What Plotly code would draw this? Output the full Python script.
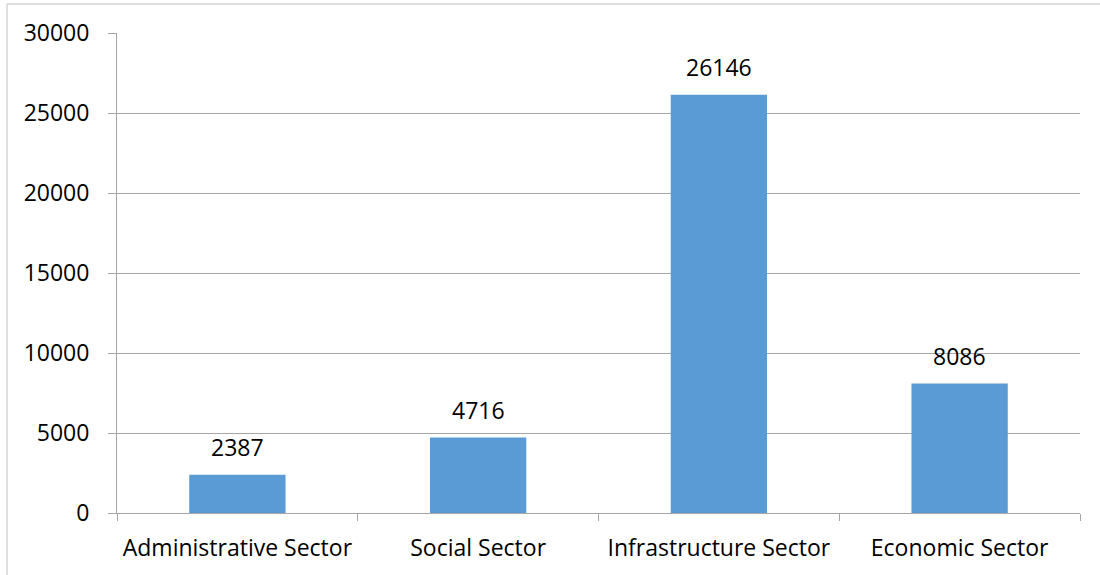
import plotly.graph_objects as go

categories = ["Administrative Sector", "Social Sector", "Infrastructure Sector", "Economic Sector"]
values = [2387, 4716, 26146, 8086]
y_ticks = [0, 5000, 10000, 15000, 20000, 25000, 30000]

W, H = 1100, 575
L, R, T, B = 117, 20, 33, 62
pw, ph = W - L - R, H - T - B

def px(x):
    return (x - L) / pw

def py(y):
    return (H - B - y) / ph

font = dict(family="'Open Sans', 'Noto Sans', sans-serif", size=23, color="#000000")

fig = go.Figure()
fig.add_trace(go.Bar(x=categories, y=values, marker=dict(color="#5B9BD5", line=dict(width=0)),
                     hoverinfo="x+y"))

for c, v in zip(categories, values):
    fig.add_annotation(x=c, y=v, text=str(v), showarrow=False, yanchor="bottom",
                       yshift=10, font=font)

fig.update_layout(
    width=W, height=H,
    margin=dict(l=L, r=R, t=T, b=B),
    paper_bgcolor="white", plot_bgcolor="white",
    bargap=0.6, showlegend=False, font=font,
    xaxis=dict(type="category", showline=True, linecolor="#a6a6a6", linewidth=1,
               ticks="outside", tickson="boundaries", ticklen=7, tickcolor="#a6a6a6",
               showgrid=False, tickfont=font, ticklabelstandoff=14, fixedrange=True),
    yaxis=dict(range=[0, 30000], tickvals=y_ticks, ticktext=[str(t) for t in y_ticks],
               showline=True, linecolor="#a6a6a6", linewidth=1, ticks="outside", ticklen=8,
               tickcolor="#a6a6a6", showgrid=True, gridcolor="#a6a6a6", gridwidth=1,
               zeroline=False, tickfont=font, ticklabelstandoff=14, fixedrange=True),
    shapes=[
        dict(type="line", xref="paper", yref="paper", x0=px(7), x1=px(7), y0=py(575), y1=py(4),
             line=dict(color="#bfbfbf", width=1)),
        dict(type="line", xref="paper", yref="paper", x0=px(7), x1=px(1100), y0=py(4), y1=py(4),
             line=dict(color="#bfbfbf", width=1)),
    ],
)

fig.write_html("out.html", config={"displayModeBar": False},
               post_script="document.body.style.margin='0';document.body.style.overflow='hidden';")
